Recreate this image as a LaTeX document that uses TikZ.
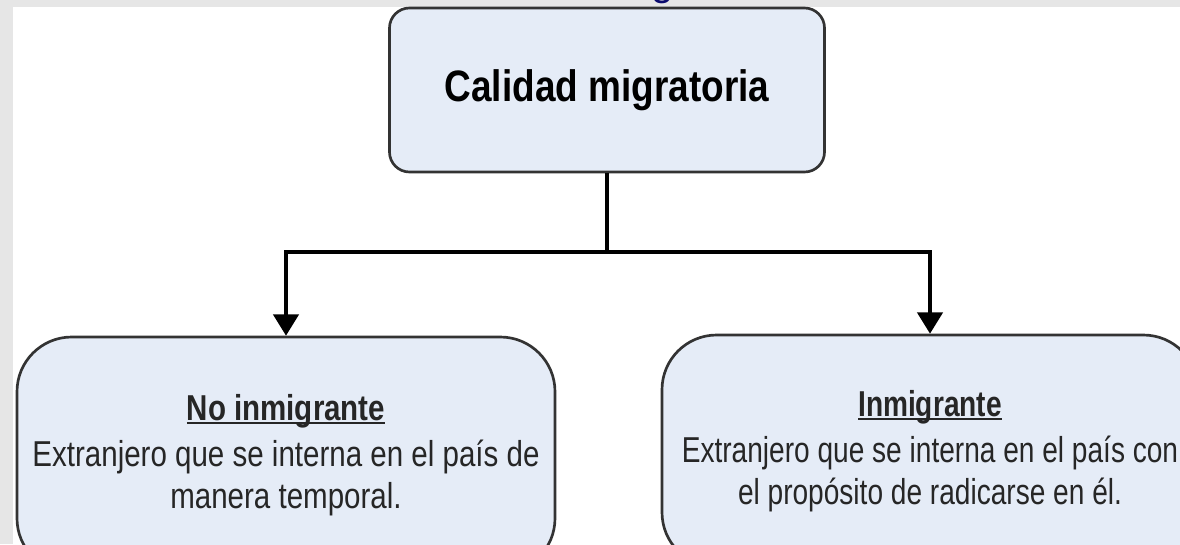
\documentclass[tikz,border=0pt]{standalone}
\usepackage{fontspec}
\setmainfont{Liberation Sans}
\newfontfamily\headsans[FakeStretch=0.84]{Liberation Sans}
\newfontfamily\narrowsans[FakeStretch=0.82]{Liberation Sans}
\newfontfamily\narrowersans[FakeStretch=0.78]{Liberation Sans}
\usetikzlibrary{arrows.meta}
\definecolor{boxblue}{HTML}{E5ECF7}
\definecolor{paper}{HTML}{E6E6E6}
\definecolor{titlenavy}{HTML}{0A0A6E}
\newcommand{\ulhead}[1]{\setbox0\hbox{\bfseries #1}\leavevmode\rlap{\rule[-3pt]{\wd0}{1.6pt}}\box0}

\begin{document}
\begin{tikzpicture}[x=0.75pt,y=-0.75pt,
    box/.style={draw=black!80,line width=2pt,fill=boxblue,rounded corners=#1,align=center},
    box/.default=15pt,
    link/.style={line width=2.6pt},
    arrowlink/.style={link,-{Triangle[width=19pt,length=16pt]}}]
  \useasboundingbox (0,0) rectangle (1180,544);
  \fill[paper] (0,0) rectangle (1180,544);
  \fill[white] (13,7) rectangle (1180,544);
  \node[anchor=base,text=titlenavy,font=\fontsize{30}{36}\selectfont] (title) at (663,-5) {g};

  \node[box,minimum width=326.25pt,minimum height=123pt,
    font=\headsans\bfseries\fontsize{33}{40}\selectfont] (calidad) at (607,90) {Calidad migratoria};
  \node[box=41pt,minimum width=403.5pt,minimum height=177pt,text=black!85,
    font=\narrowsans\fontsize{27}{31.5}\selectfont] (noinm) at (286,455)
    {\ulhead{No inmigrante}\\[3pt] Extranjero que se interna en el país de\\ manera temporal.};
  \node[box=41pt,minimum width=402pt,minimum height=174pt,text=black!85,
    font=\narrowersans\fontsize{27}{31.5}\selectfont] (inm) at (930,451)
    {\ulhead{Inmigrante}\\[3pt] Extranjero que se interna en el país con\\ el propósito de radicarse en él.};

  \coordinate (split) at (607,252);
  \draw[link] (calidad.south) -- (split);
  \draw[arrowlink] (split) -| (noinm.north);
  \draw[arrowlink] (split) -| (inm.north);
\end{tikzpicture}
\end{document}
